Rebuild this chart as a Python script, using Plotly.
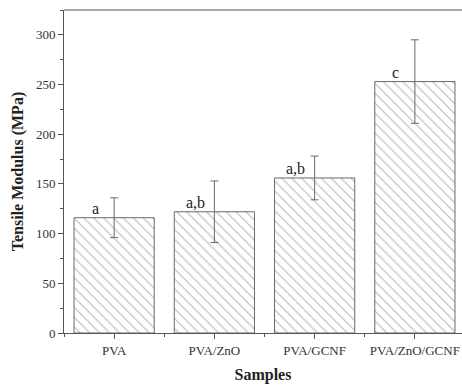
import plotly.graph_objects as go

categories = ["PVA", "PVA/ZnO", "PVA/GCNF", "PVA/ZnO/GCNF"]
modulus = [116, 122, 156, 253]
errors = [20, 31, 22, 42]
letters = ["a", "a,b", "a,b", "c"]
yticks = [0, 50, 100, 150, 200, 250, 300]

xs = list(range(len(categories)))
font_family = "Liberation Serif"
gray = "#6a6a6a"

fig = go.Figure()
fig.add_trace(go.Bar(
    x=xs, y=modulus, width=0.8,
    marker=dict(color="white", line=dict(color=gray, width=1),
                pattern=dict(shape="\\", fgcolor="#6f6f6f", bgcolor="white", size=7, solidity=0.15)),
    error_y=dict(type="data", array=errors, color=gray, thickness=1, width=4),
    showlegend=False,
))

for i, (v, lab) in enumerate(zip(modulus, letters)):
    fig.add_annotation(x=i - 0.19, y=v, text=lab, showarrow=False,
                       yanchor="bottom", yshift=-1,
                       font=dict(family=font_family, size=16, color="#222"))

fig.add_shape(type="line", xref="paper", yref="paper", x0=0, x1=1, y0=1, y1=1,
              line=dict(color="#555", width=1))

fig.update_layout(
    width=462, height=388,
    margin=dict(l=64, r=0, t=10, b=55),
    paper_bgcolor="white", plot_bgcolor="white",
    font=dict(family=font_family, size=12, color="#333"),
    bargap=0.2,
)
fig.update_xaxes(
    range=[-0.5, 3.47], tickvals=xs, ticktext=categories,
    showline=True, linecolor="#555", linewidth=1,
    ticks="outside", ticklen=5, tickcolor="#555",
    minor=dict(tick0=0.5, dtick=1, ticks="outside", ticklen=3, tickcolor="#555"),
    showgrid=False, zeroline=False,
    title=dict(text="<b>Samples</b>", font=dict(family=font_family, size=16, color="#222"), standoff=12),
    tickfont=dict(family=font_family, size=13, color="#333"),
)
fig.update_yaxes(
    range=[0, 325], tickvals=yticks,
    showline=True, linecolor="#555", linewidth=1,
    ticks="outside", ticklen=5, tickcolor="#555",
    minor=dict(dtick=25, ticks="outside", ticklen=3, tickcolor="#555"),
    showgrid=False, zeroline=False,
    title=dict(text="<b>Tensile Modulus (MPa)</b>", font=dict(family=font_family, size=16, color="#222"), standoff=8),
    tickfont=dict(family=font_family, size=13, color="#333"),
)

fig.write_html("out.html")
